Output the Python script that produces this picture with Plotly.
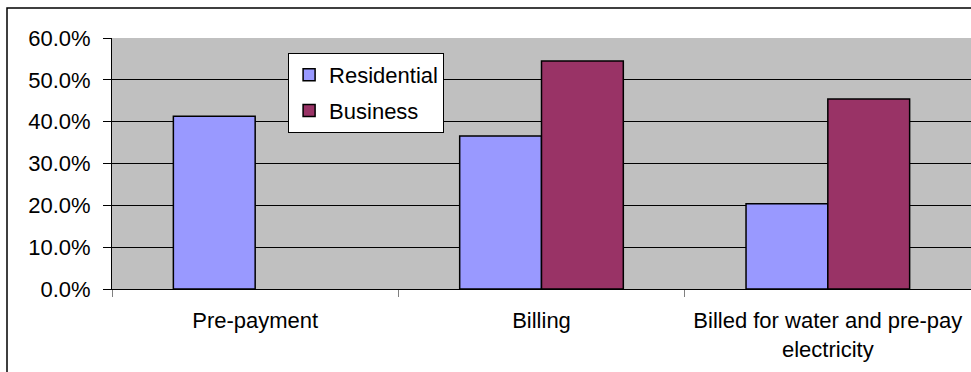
import plotly.graph_objects as go

# Survey shares by payment method
categories = ["Pre-payment", "Billing", "Billed for water and pre-pay<br>electricity"]
residential = [0.413, 0.366, 0.204]
business = [None, 0.545, 0.454]
y_ticks = [0.0, 0.1, 0.2, 0.3, 0.4, 0.5, 0.6]

FONT = dict(family="Liberation Sans, Arial, sans-serif", size=22, color="#000000")

fig = go.Figure()
fig.add_trace(go.Bar(
    name="Residential", x=categories, y=residential,
    marker=dict(color="#9999FF", line=dict(color="#000000", width=1.5)),
    legendgroup="r",
))
fig.add_trace(go.Bar(
    name="Business", x=categories, y=business,
    marker=dict(color="#993366", line=dict(color="#000000", width=1.5)),
    legendgroup="b",
))

fig.update_layout(
    width=971, height=372,
    margin=dict(l=112, r=0, t=38, b=83, pad=0),
    paper_bgcolor="#FFFFFF",
    plot_bgcolor="#C0C0C0",
    font=FONT,
    barmode="group",
    bargap=0.4286,
    bargroupgap=0,
    showlegend=True,
    legend=dict(
        x=0.205, y=0.94, xanchor="left", yanchor="top",
        bgcolor="#FFFFFF", bordercolor="#000000", borderwidth=1,
        font=FONT, traceorder="grouped", tracegroupgap=4,
        itemwidth=30,
    ),
    xaxis=dict(
        type="category",
        showgrid=False,
        showline=True, linecolor="#000000", linewidth=1,
        ticks="outside", tickson="boundaries", ticklen=7,
        tickcolor="#808080", tickwidth=1,
        ticklabelstandoff=12,
        tickfont=FONT,
    ),
    yaxis=dict(
        range=[0, 0.6],
        tickvals=y_ticks,
        tickformat=".1%",
        showgrid=True, gridcolor="#000000", gridwidth=1,
        showline=True, linecolor="#000000", linewidth=1,
        ticks="outside", ticklen=8, tickcolor="#000000",
        ticklabelstandoff=8,
        tickfont=FONT,
        zeroline=False,
    ),
    shapes=[
        # outer chart frame
        dict(type="rect", xref="paper", yref="paper",
             x0=-105 / 859, x1=1.2, y0=-0.5, y1=1 + 30 / 251,
             line=dict(color="#000000", width=1.5), fillcolor="rgba(0,0,0,0)",
             layer="below"),
    ],
)

fig.write_html("out.html")
